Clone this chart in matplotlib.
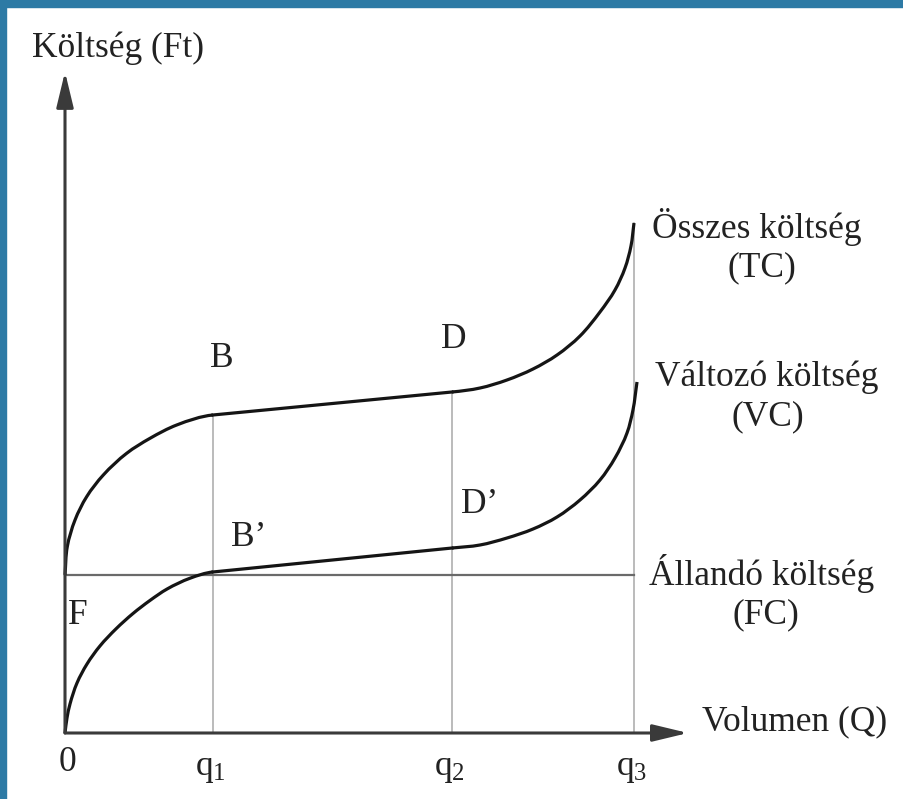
import numpy as np
import matplotlib
matplotlib.use("Agg")
import matplotlib.pyplot as plt
from matplotlib.patches import Rectangle, PathPatch
from matplotlib.path import Path

plt.rcParams['font.family'] = ['Liberation Serif', 'DejaVu Serif']
plt.rcParams['mathtext.fontset'] = 'custom'
plt.rcParams['mathtext.rm'] = 'Liberation Serif'
plt.rcParams['mathtext.it'] = 'Liberation Serif'

# quantities (arbitrary units)
q_marks = [2.60, 6.80, 10.0]
q_labels = [r'$\mathrm{q}_{1}$', r'$\mathrm{q}_{2}$', r'$\mathrm{q}_{3}$']
fixed_cost = 2.78

# total cost curve (TC): rising part up to q1, straight stretch to q2, steep part after
tc_q = [0, 0.04, 0.176, 0.381, 0.673, 1.083, 1.494, 1.963, 2.601,
        6.801, 7.293, 7.768, 8.225, 8.647, 9.051, 9.402, 9.666, 9.842, 9.947, 10.0]
tc_v = [2.78, 3.274, 3.743, 4.153, 4.534, 4.915, 5.179, 5.413, 5.589,
        5.993, 6.063, 6.204, 6.397, 6.643, 6.977, 7.399, 7.786, 8.172, 8.559, 8.963]
tc_q1, tc_q2 = 8, 9   # indices of the points at q1 and q2

# variable cost curve (VC)
vc_q = [0, 0.035, 0.088, 0.211, 0.387, 0.615, 0.896, 1.195, 1.494, 1.793, 2.197, 2.601,
        6.801, 7.293, 7.768, 8.225, 8.647, 9.051, 9.402, 9.666, 9.877, 9.982, 10.053]
vc_v = [0, 0.264, 0.510, 0.879, 1.213, 1.53, 1.83, 2.10, 2.33, 2.53, 2.72, 2.83,
        3.251, 3.304, 3.427, 3.585, 3.796, 4.095, 4.446, 4.833, 5.272, 5.677, 6.169]
vc_q1, vc_q2 = 11, 12

x_end = 10.95   # tip of the Q axis arrow
y_end = 11.62   # tip of the cost axis arrow


def unit(v):
    return v / np.hypot(v[0], v[1])


def smooth_path(xs, ys, t_start=None, t_end=None):
    # bezier path through the read points
    p = np.column_stack([xs, ys]).astype(float)
    n = len(p)
    tang = []
    for i in range(n):
        if i == 0:
            t = unit(p[1] - p[0]) if t_start is None else unit(t_start)
        elif i == n - 1:
            t = unit(p[-1] - p[-2]) if t_end is None else unit(t_end)
        else:
            t = unit(unit(p[i + 1] - p[i]) + unit(p[i] - p[i - 1]))
        tang.append(t)
    verts = [p[0]]
    codes = [Path.MOVETO]
    for i in range(n - 1):
        L = np.hypot(*(p[i + 1] - p[i]))
        verts += [p[i] + tang[i] * L / 3, p[i + 1] - tang[i + 1] * L / 3, p[i + 1]]
        codes += [Path.CURVE4] * 3
    return Path(verts, codes)


def draw_cost_curve(ax, xs, ys, i1, i2):
    line_dir = np.array([xs[i2] - xs[i1], ys[i2] - ys[i1]])
    style = dict(fill=False, edgecolor='#151515', lw=2.3, capstyle='butt', zorder=3)
    ax.add_patch(PathPatch(smooth_path(xs[:i1 + 1], ys[:i1 + 1], t_end=line_dir), **style))
    ax.plot(xs[i1:i2 + 1], ys[i1:i2 + 1], color='#151515', lw=2.3, zorder=3)
    ax.add_patch(PathPatch(smooth_path(xs[i2:], ys[i2:], t_start=line_dir), **style))


fig = plt.figure(figsize=(9.04, 7.99), dpi=100)
ax = fig.add_axes([0, 0, 1, 1])
S = 56.9  # pixels per unit
ax.set_xlim(-65 / S, (904 - 65) / S)
ax.set_ylim(-(799 - 733) / S, 733 / S)
ax.axis('off')

# blue frame strips
fig.patches.append(Rectangle((0, 1 - 7 / 799), 1, 7 / 799, transform=fig.transFigure,
                             color='#2d7aa5', zorder=0))
fig.patches.append(Rectangle((0, 0), 6 / 904, 1, transform=fig.transFigure,
                             color='#2d7aa5', zorder=0))

# guide lines at q1, q2, q3
tc_at_q = [tc_v[tc_q1], tc_v[tc_q2], tc_v[-1]]
for q, top in zip(q_marks, tc_at_q):
    ax.plot([q, q], [0, top], color='#a8a8a8', lw=1.1, zorder=1)

# fixed cost
ax.plot([0, q_marks[-1]], [fixed_cost, fixed_cost], color='#6a6a6a', lw=1.6, zorder=2)

# curves
draw_cost_curve(ax, tc_q, tc_v, tc_q1, tc_q2)
draw_cost_curve(ax, vc_q, vc_v, vc_q1, vc_q2)

# axes with arrows
arrow = dict(arrowstyle='-|>,head_length=1.08,head_width=0.26', color='#3a3a3a',
             lw=2.2, mutation_scale=20, shrinkA=0, shrinkB=0)
ax.annotate('', xy=(x_end, 0), xytext=(0, 0), arrowprops=arrow, zorder=4)
ax.annotate('', xy=(0, y_end), xytext=(0, 0), arrowprops=arrow, zorder=4)

fs = 25.5
tc_col = '#222222'
ax.text(-0.58, 12.04, 'Költség (Ft)', fontsize=fs, ha='left', va='center', color=tc_col)
ax.text(11.2, 0.19, 'Volumen (Q)', fontsize=fs, ha='left', va='center', color=tc_col)

ax.text(12.16, 8.89, 'Összes költség', fontsize=fs, ha='center', va='center', color=tc_col)
ax.text(12.25, 8.17, '(TC)', fontsize=fs, ha='center', va='center', color=tc_col)
ax.text(12.34, 6.26, 'Változó költség', fontsize=fs, ha='center', va='center', color=tc_col)
ax.text(12.36, 5.55, '(VC)', fontsize=fs, ha='center', va='center', color=tc_col)
ax.text(12.25, 2.81, 'Állandó költség', fontsize=fs, ha='center', va='center', color=tc_col)
ax.text(12.32, 2.07, '(FC)', fontsize=fs, ha='center', va='center', color=tc_col)

ax.text(0.05, -0.51, '0', fontsize=fs, ha='center', va='center', color=tc_col)
for q, lab in zip(q_marks, q_labels):
    ax.text(q - 0.05, -0.62, lab, fontsize=fs, ha='center', va='center', color=tc_col)

ax.text(0.23, 2.07, 'F', fontsize=fs, ha='center', va='center', color=tc_col)
ax.text(2.76, 6.59, 'B', fontsize=fs, ha='center', va='center', color=tc_col)
ax.text(3.22, 3.44, 'B’', fontsize=fs, ha='center', va='center', color=tc_col)
ax.text(6.84, 6.91, 'D', fontsize=fs, ha='center', va='center', color=tc_col)
ax.text(7.29, 4.01, 'D’', fontsize=fs, ha='center', va='center', color=tc_col)

fig.savefig('out.png', dpi=100)
